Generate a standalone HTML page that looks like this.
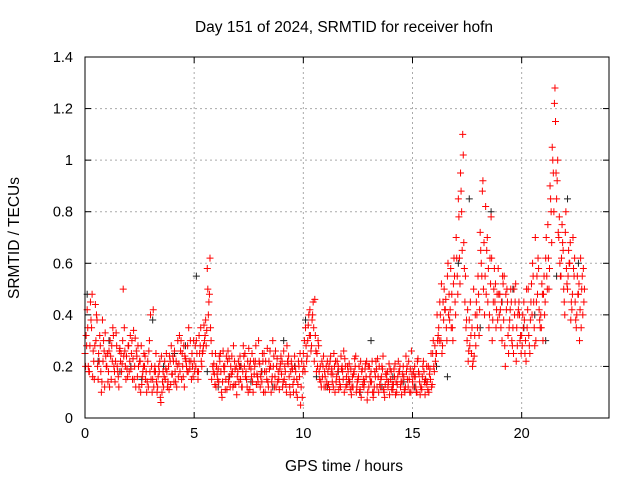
<!DOCTYPE html>
<html><head><meta charset="utf-8"><style>body{margin:0;background:#fff}svg{display:block;font-family:"Liberation Sans",sans-serif}</style></head>
<body>
<svg id="chart" width="640" height="480" xmlns="http://www.w3.org/2000/svg">
<text x="344" y="32" font-size="15.5" text-anchor="middle">Day 151 of 2024, SRMTID for receiver hofn</text>
<text x="344" y="471" font-size="15.5" text-anchor="middle">GPS time / hours</text>
<text transform="translate(19,238) rotate(-90)" font-size="15.5" text-anchor="middle">SRMTID / TECUs</text>
<g id="grid"></g><g id="ticks"></g><g id="marks"></g>
<rect x="85" y="57" width="524" height="361" fill="none" stroke="#000" stroke-width="1"/>
</svg>
<script>
const xTicks=[0,5,10,15,20];
const yTicks=[0,0.2,0.4,0.6,0.8,1,1.2,1.4];
const yTickLabels=["0","0.2","0.4","0.6","0.8","1","1.2","1.4"];
const redSeriesA=[.25,.42,.18,.35,.22,.30,.15,.28,.38,.12,.20,.26,.15,.32,.22,.18,.27,.21,.35,.24,.28,.19,.23,.31,.16,.22,.13,.25,.18,.12,.40,.15,.20,.10,.18,.24,.12,.19,.14,.22,.17,.26,.12,.21,.30,.16,.23,.28,.19,.25,.22,.30,.18,.35,.26,.32,.58,.48,.15,.21,.12,.19,.25,.14,.20,.11,.23,.17,.28,.13,.18,.24,.12,.20,.15,.27,.19,.10,.22,.16,.21,.14,.25,.18,.12,.20,.30,.16,.23,.11,.17,.26,.13,.21,.09,.19,.24,.15,.20,.12,.25,.35,.30,.42,.38,.22,.18,.28,.14,.20,.16,.22,.11,.19,.25,.14,.20,.12,.18,.23,.13,.21,.09,.17,.24,.15,.11,.19,.14,.22,.12,.18,.08,.16,.23,.13,.20,.10,.17,.14,.15,.11,.21,.13,.18,.09,.16,.24,.12,.19,.14,.20,.10,.17,.12,.22,.15,.11,.19,.13,.18,.25,.35,.30,.45,.42,.55,.38,.48,.62,.70,.85,.95,1.1,.45,.30,.38,.25,.50,.28,.55,.72,.88,.40,.65,.35,.78,.45,.52,.38,.48,.30,.55,.42,.25,.50,.35,.45,.28,.40,.32,.45,.22,.50,.38,.60,.28,.55,.42,.35,.48,.62,.75,.90,1.05,1.22,.85,.70,.55,.65,.72,.50,.60,.42,.55,.35,.48,.62,.40];
const redSeriesB=[.32,.20,.45,.16,.28,.38,.22,.10,.30,.24,.14,.30,.22,.18,.28,.12,.25,.50,.20,.16,.22,.30,.15,.26,.20,.10,.18,.24,.14,.30,.20,.12,.25,.16,.08,.14,.22,.18,.11,.28,.22,.14,.30,.18,.25,.12,.20,.35,.22,.16,.28,.18,.25,.20,.36,.28,.40,.35,.20,.13,.17,.24,.10,.20,.15,.26,.12,.18,.22,.09,.14,.20,.28,.16,.22,.11,.25,.17,.13,.30,.16,.22,.10,.27,.19,.14,.24,.12,.18,.21,.12,.20,.28,.16,.22,.10,.18,.13,.25,.08,.30,.22,.40,.26,.45,.32,.20,.15,.22,.12,.20,.13,.24,.17,.10,.22,.15,.19,.26,.12,.18,.11,.16,.23,.12,.20,.08,.15,.21,.10,.16,.22,.12,.19,.10,.15,.24,.13,.18,.09,.11,.19,.14,.22,.12,.17,.10,.20,.15,.26,.18,.12,.23,.09,.16,.14,.20,.10,.25,.30,.22,.30,.45,.25,.50,.35,.40,.58,.30,.45,.55,.62,.80,.68,.35,.22,.45,.20,.32,.40,.32,.60,.50,.82,.45,.62,.30,.58,.42,.48,.35,.52,.20,.45,.38,.30,.50,.22,.42,.32,.40,.25,.35,.28,.52,.45,.30,.62,.35,.48,.40,.55,.50,.80,.95,1.15,1.00,.60,.75,.45,.58,.65,.38,.70,.45,.55,.30,.50,.45];
const redSeriesC=[.20,.35,.28,.48,.15,.40,.25,.18,.22,.33,.25,.12,.28,.20,.33,.16,.22,.30,.26,.19,.18,.25,.34,.12,.28,.22,.16,.20,.10,.26,.15,.42,.18,.12,.22,.10,.16,.25,.20,.13,.24,.18,.20,.32,.15,.28,.22,.18,.30,.20,.18,.25,.32,.22,.28,.38,.50,.62,.25,.17,.20,.14,.18,.26,.11,.22,.16,.24,.13,.20,.22,.15,.18,.25,.12,.20,.16,.22,.28,.14,.12,.25,.18,.15,.22,.10,.20,.26,.14,.19,.22,.15,.10,.24,.18,.13,.20,.08,.16,.22,.20,.28,.36,.32,.40,.46,.25,.18,.12,.24,.12,.18,.22,.14,.20,.16,.11,.24,.15,.20,.20,.14,.12,.18,.10,.16,.22,.13,.19,.07,.20,.14,.10,.22,.16,.12,.19,.08,.15,.21,.18,.13,.09,.16,.20,.14,.11,.18,.22,.10,.12,.16,.22,.14,.11,.18,.13,.20,.15,.25,.28,.40,.30,.52,.38,.46,.60,.42,.35,.55,.62,.78,.88,1.02,.55,.42,.28,.35,.24,.45,.48,.65,.92,.55,.70,.40,.62,.50,.35,.58,.42,.55,.28,.50,.35,.45,.25,.52,.40,.30,.28,.38,.50,.32,.45,.55,.70,.48,.38,.52,.55,.70,.62,.85,1.0,1.28,.92,.78,.62,.50,.80,.55,.68,.48,.62,.40,.52,.35,.58];
const redSeriesD=[.28,.18,.38,.26,.44,.20,.32,.14,.26,.20,.18,.24,.35,.14,.20,.26,.18,.24,.15,.28,.32,.15,.20,.24,.12,.28,.20,.15,.22,.18,.10,.18,.14,.20,.06,.18,.15,.12,.24,.17,.14,.22,.16,.26,.20,.24,.18,.22,.15,.30,.20,.15,.28,.25,.30,.34,.45,.30,.18,.25,.15,.22,.08,.18,.24,.14,.20,.12,.19,.16,.20,.12,.24,.18,.10,.22,.14,.20,.17,.22,.18,.10,.22,.14,.26,.16,.12,.20,.15,.24,.14,.18,.22,.12,.20,.15,.10,.22,.05,.18,.18,.24,.32,.28,.35,.26,.30,.20,.16,.18,.14,.20,.17,.12,.22,.18,.13,.20,.10,.16,.15,.19,.12,.20,.14,.10,.18,.12,.16,.20,.14,.10,.18,.12,.20,.16,.11,.17,.12,.19,.13,.16,.10,.18,.14,.20,.12,.15,.10,.17,.16,.10,.18,.12,.20,.09,.14,.17,.12,.20,.25,.32,.40,.28,.42,.30,.48,.35,.52,.40,.48,.52,.65,.58,.38,.26,.32,.22,.40,.35,.42,.55,.68,.48,.58,.52,.38,.45,.48,.40,.45,.38,.48,.32,.42,.28,.40,.35,.45,.25,.35,.30,.42,.25,.40,.35,.45,.58,.40,.30,.45,.50,.58,.68,.80,.95,.72,.55,.68,.40,.52,.60,.45,.58,.38,.48,.42,.55,.50];
const blackSeries=[.48,.22,.30,.18,.20,.15,.38,.20,.25,.28,.55,.18,.12,.16,.20,.14,.18,.12,.30,.20,.38,.16,.12,.18,.14,.10,.30,.12,.16,.14,.12,.15,.20,.16,.60,.85,.35,.80,.45,.50,.35,.40,.30,.55,.85,.60];
const X0=85,X1=609,Y0=418,Y1=57;
const xs=h=>X0+h/24*(X1-X0);
const ys=v=>Y0-v/1.4*(Y0-Y1);
const NS="http://www.w3.org/2000/svg";
const g=document.getElementById('grid'),tk=document.getElementById('ticks'),mk=document.getElementById('marks');
function mkEl(t,a,p){const e=document.createElementNS(NS,t);for(const k in a)e.setAttribute(k,a[k]);p.appendChild(e);return e;}
xTicks.forEach(v=>{const x=xs(v);
 const l=mkEl('line',{x1:x,x2:x,y1:Y1,y2:Y0,stroke:'#aaa','stroke-dasharray':'2,3'},g);
 
 
 const t=mkEl('text',{x:x,y:Y0+20,'font-size':14.5,'text-anchor':'middle'},tk);t.textContent=v;
 
 
 mkEl('line',{x1:x,x2:x,y1:Y0,y2:Y0-6,stroke:'#000'},tk);mkEl('line',{x1:x,x2:x,y1:Y1,y2:Y1+6,stroke:'#000'},tk);});
yTicks.forEach((v,i)=>{const y=ys(v);
 const l=mkEl('line',{x1:X0,x2:X1,y1:y,y2:y,stroke:'#aaa','stroke-dasharray':'2,3'},g);
 
 
 const t=mkEl('text',{x:X0-12,y:y+5,'font-size':14.5,'text-anchor':'end'},tk);t.textContent=yTickLabels[i];
 
 
 mkEl('line',{x1:X0,x2:X0+6,y1:y,y2:y,stroke:'#000'},tk);mkEl('line',{x1:X1,x2:X1-6,y1:y,y2:y,stroke:'#000'},tk);});
function plus(h,v,c,name){const x=xs(h),y=ys(v);
 const p=mkEl('path',{d:`M${x-3.5},${y}h7M${x},${y-3.5}v7`,stroke:c,'stroke-width':1,fill:'none'},mk);
 
 }
blackSeries.forEach((v,i)=>plus(i*0.5+0.1,v,'#222','black-point'));
redSeriesA.forEach((v,i)=>plus(i*0.1,v,'#f00','red-point'));
redSeriesB.forEach((v,i)=>plus(i*0.1+0.05,v,'#f00','red-point'));
redSeriesC.forEach((v,i)=>plus(i*0.1+0.025,v,'#f00','red-point'));
redSeriesD.forEach((v,i)=>plus(i*0.1+0.075,v,'#f00','red-point'));
</script>
</body></html>
